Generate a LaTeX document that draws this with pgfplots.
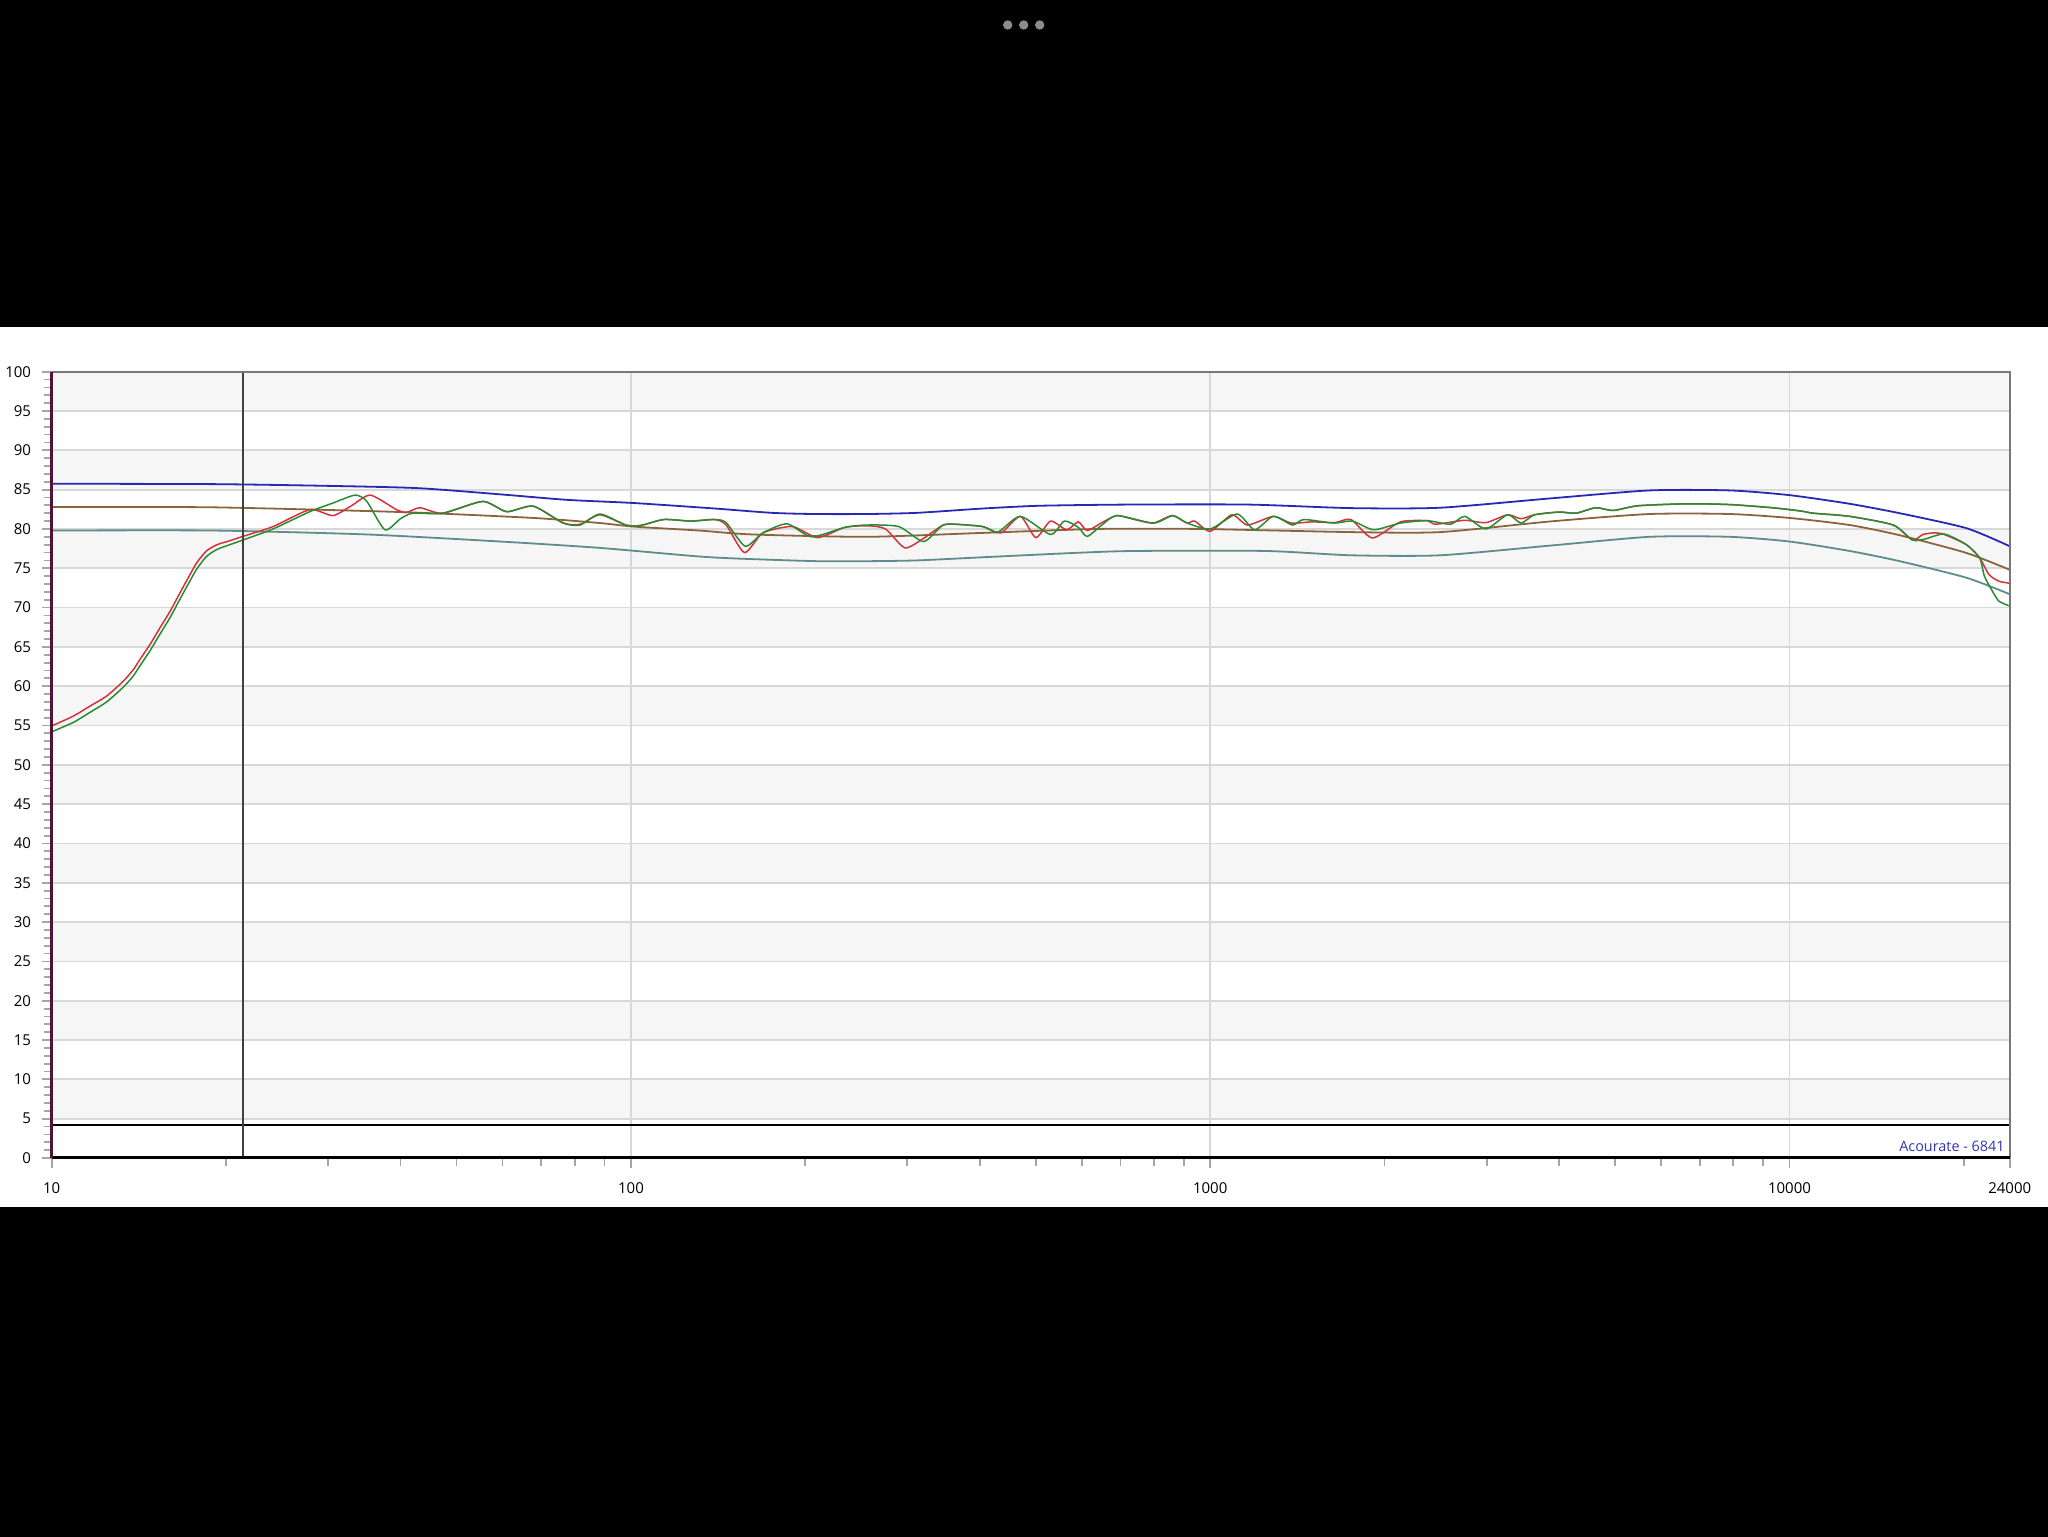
\documentclass[border=0pt]{standalone}
\usepackage{pgfplots}
\pgfplotsset{compat=1.18}
\usepackage{fontspec}
\setmainfont{Open Sans}
\definecolor{upblue}{RGB}{40,40,180}
\definecolor{tgtbrown}{RGB}{140,100,60}
\definecolor{lowteal}{RGB}{95,140,140}
\definecolor{measred}{RGB}{212,50,60}
\definecolor{measgreen}{RGB}{40,140,50}
\definecolor{bandgray}{RGB}{246,246,246}
\definecolor{gridgray}{RGB}{216,216,216}
\definecolor{tickgray}{RGB}{165,165,165}
\definecolor{framegray}{RGB}{120,120,120}
\definecolor{leftmaroon}{RGB}{80,20,55}
\definecolor{dotgray}{RGB}{140,140,140}
\definecolor{acblue}{RGB}{52,52,180}
\begin{document}
\begin{tikzpicture}[x=1pt,y=1pt]
\path[use as bounding box] (0,0) rectangle (1024,768);
\fill[black] (-2,-2) rectangle (1026,770);
\fill[white] (-2,164.35) rectangle (1026,604.35);
\fill[dotgray] (503.85,755.5) circle (2.35);
\fill[dotgray] (511.85,755.5) circle (2.35);
\fill[dotgray] (519.85,755.5) circle (2.35);
\begin{axis}[
  at={(25.85pt,189pt)}, anchor=south west,
  scale only axis, width=979pt, height=393.15pt,
  xmode=log, xmin=10, xmax=24000, ymin=0, ymax=100,
  axis line style={draw=none},
  xtick={10,100,1000,10000,24000},
  xticklabels={10,100,1000,10000,24000},
  minor xtick={20,30,40,50,60,70,80,90,200,300,400,500,600,700,800,900,2000,3000,4000,5000,6000,7000,8000,9000,20000},
  ytick={0,5,...,100},
  minor ytick={0,1,...,100},
  xtick pos=bottom, ytick pos=left,
  tick align=outside,
  major tick length=5pt, minor tick length=4pt,
  tick style={color=tickgray, line width=0.9pt},
  /pgf/number format/assume math mode=true,
  ticklabel style={font=\fontsize{7.5}{9}\selectfont, text=black},
  xticklabel style={anchor=center, yshift=-10pt},
  yticklabel style={anchor=east, xshift=-1.8pt},
  every axis plot/.append style={smooth, tension=0.4},
  clip=false,
]
% background bands
\fill[bandgray] (axis cs:10,95) rectangle (axis cs:24000,100);
\fill[bandgray] (axis cs:10,85) rectangle (axis cs:24000,90);
\fill[bandgray] (axis cs:10,75) rectangle (axis cs:24000,80);
\fill[bandgray] (axis cs:10,65) rectangle (axis cs:24000,70);
\fill[bandgray] (axis cs:10,55) rectangle (axis cs:24000,60);
\fill[bandgray] (axis cs:10,45) rectangle (axis cs:24000,50);
\fill[bandgray] (axis cs:10,35) rectangle (axis cs:24000,40);
\fill[bandgray] (axis cs:10,25) rectangle (axis cs:24000,30);
\fill[bandgray] (axis cs:10,15) rectangle (axis cs:24000,20);
\fill[bandgray] (axis cs:10,5) rectangle (axis cs:24000,10);
% grid
\pgfplotsinvokeforeach{5,10,...,95}{\draw[gridgray, line width=0.9pt] (axis cs:10,#1) -- (axis cs:24000,#1);}
\draw[gridgray, line width=0.9pt] (axis cs:100,0) -- (axis cs:100,100);
\draw[gridgray, line width=0.9pt] (axis cs:1000,0) -- (axis cs:1000,100);
\draw[gridgray, line width=0.9pt] (axis cs:10000,0) -- (axis cs:10000,100);
% upper limit
\addplot[upblue, line width=0.9pt] coordinates {
(10,85.75) (19,85.7) (29,85.5) (42.6,85.2) (59.5,84.4) (77.6,83.7) (101,83.3)
(139.5,82.6) (175,82.05) (207,81.9) (256,81.9) (312,82.05) (405,82.6) (508,82.95)
(721,83.1) (1163,83.1) (1750,82.65) (2495,82.7) (3886,83.9) (5740,84.9) (7890,84.9)
(10000,84.3) (12700,83.2) (15500,82.0) (20200,80.1) (24000,77.8)};
% lower limit
\addplot[lowteal, line width=0.9pt] coordinates {
(10,79.8) (19,79.8) (35,79.3) (59.5,78.4) (88,77.6) (131,76.5) (157,76.2) (210,75.9)
(256,75.9) (312,76.0) (405,76.4) (583,76.95) (741,77.2) (1248,77.2) (1750,76.65)
(2495,76.65) (3886,77.9) (5740,79.0) (7890,79.0) (10000,78.4) (12700,77.2)
(15500,75.9) (20200,73.8) (24000,71.7)};
% target
\addplot[tgtbrown, line width=0.9pt] coordinates {
(10,82.8) (19,82.75) (40,82.15) (67.8,81.4) (88.4,80.75) (101,80.3) (131,79.8)
(162,79.3) (256,79.0) (405,79.5) (639,80.0) (957,80.0) (1750,79.6) (2495,79.6)
(3886,80.97) (5740,81.9) (7890,81.9) (10000,81.4) (12700,80.5) (15500,79.2)
(20200,76.95) (24000,74.8)};
% measured red
\addplot[measred, line width=0.75pt] coordinates {
(10,54.95) (10.9,56.2) (11.6,57.4) (12.44,58.75) (13.3,60.66) (13.83,62.1) (14.2,63.4)
(14.78,65.3) (15.37,67.4) (16.0,69.5) (16.66,71.9) (17.33,74.2) (17.8,75.7) (18.5,77.2)
(19.3,78.0) (20.3,78.5) (21.4,79.06) (24.1,80.3) (27.9,82.45) (30.6,81.7) (33,83.0) (35.5,84.3)
(39.4,82.45) (41,82.1) (43.2,82.7) (47.3,82.0) (55.5,83.5) (61,82.2) (67.8,82.9)
(76.4,80.75) (81.7,80.6) (88.4,81.8) (98,80.5) (104,80.45) (114,81.2) (127,81.0)
(139.5,81.2) (146,80.5) (157,77.0) (169,79.5) (190,80.3) (210,78.9) (234,80.2)
(256,80.4) (275,80.0) (297,77.6) (320,78.8) (345,80.45) (362,80.6) (405,80.3)
(435,79.5) (470,81.6) (500,78.9) (530,81.0) (565,79.9) (592,80.9) (613,79.8)
(650,80.8) (690,81.7) (740,81.2) (798,80.75) (860,81.7) (912,80.75) (940,81.0)
(1000,79.7) (1090,81.8) (1160,80.5) (1285,81.6) (1380,80.75) (1500,80.9) (1640,80.8)
(1750,81.2) (1905,78.85) (2130,80.9) (2370,81.05) (2450,80.6) (2750,81.1) (2990,80.8)
(3260,81.8) (3440,81.3) (3630,81.8) (4000,82.15) (4280,82.0) (4630,82.7) (4960,82.35)
(5480,82.95) (6660,83.2) (7890,83.1) (9330,82.7) (10420,82.3) (11000,82.0)
(12700,81.6) (15100,80.5) (16300,78.6) (17000,79.3) (17800,79.5) (18500,79.3)
(20200,78.0) (21300,76.3) (22100,74.2) (23000,73.35) (24000,73.1)};
% measured green
\addplot[measgreen, line width=0.75pt] coordinates {
(10,54.2) (10.9,55.4) (11.6,56.6) (12.44,58.0) (13.3,59.9) (13.83,61.3) (14.2,62.6)
(14.78,64.5) (15.37,66.6) (16.0,68.7) (16.66,71.1) (17.33,73.4) (17.8,74.9) (18.5,76.5)
(19.3,77.4) (20.3,78.0) (21.4,78.6) (24.1,80.0) (27.9,82.2) (30.6,83.3) (33.4,84.3) (35,83.5)
(37.6,79.9) (40,81.3) (42,82.0) (47.3,82.0) (55.5,83.5) (61,82.2) (67.8,82.9)
(76.4,80.75) (81.7,80.5) (88.4,81.9) (98,80.5) (104,80.45) (114,81.2) (127,81.0)
(139.5,81.2) (146,80.8) (157.5,77.8) (169,79.5) (186,80.65) (205,79.0) (234,80.2)
(256,80.5) (290,80.3) (320,78.4) (345,80.45) (362,80.6) (405,80.3) (430,79.6)
(470,81.6) (530,79.3) (560,81.0) (592,80.2) (613,79.05) (650,80.5) (690,81.7)
(798,80.75) (862,81.7) (912,80.75) (1000,80.0) (1113,81.9) (1193,79.9) (1285,81.6)
(1387,80.5) (1450,81.2) (1636,80.75) (1760,81.0) (1915,79.9) (2130,80.75)
(2370,81.05) (2600,80.6) (2750,81.6) (2990,80.0) (3260,81.8) (3440,80.75) (3630,81.8)
(4000,82.15) (4280,82.0) (4630,82.7) (4960,82.35) (5480,82.95) (6660,83.2) (7890,83.1)
(9330,82.7) (10420,82.3) (11000,82.0) (12700,81.6) (15100,80.5) (16300,78.6)
(17100,78.7) (18500,79.35) (20200,78.0) (21300,76.3) (21700,74.0) (22400,72.1)
(23000,70.8) (24000,70.2)};
% legend strip line and cursor
\draw[black, line width=0.6pt] (axis cs:10,4.2) -- (axis cs:24000,4.2);
\draw[black!75, line width=0.7pt] (axis cs:21.4,0) -- (axis cs:21.4,100);
% frame
\draw[framegray, line width=1pt] (rel axis cs:0,1) -- (rel axis cs:1,1) -- (rel axis cs:1,0);
\draw[black, line width=1.5pt] (rel axis cs:0,0) -- (rel axis cs:1,0);
\draw[leftmaroon, line width=1.6pt] (rel axis cs:0,0) -- (rel axis cs:0,1);
\end{axis}
\node[anchor=east, text=acblue, font=\fontsize{7.2}{9}\selectfont, inner sep=0pt] at (1002.5,194.8) {Acourate - 6841};
\end{tikzpicture}
\end{document}
